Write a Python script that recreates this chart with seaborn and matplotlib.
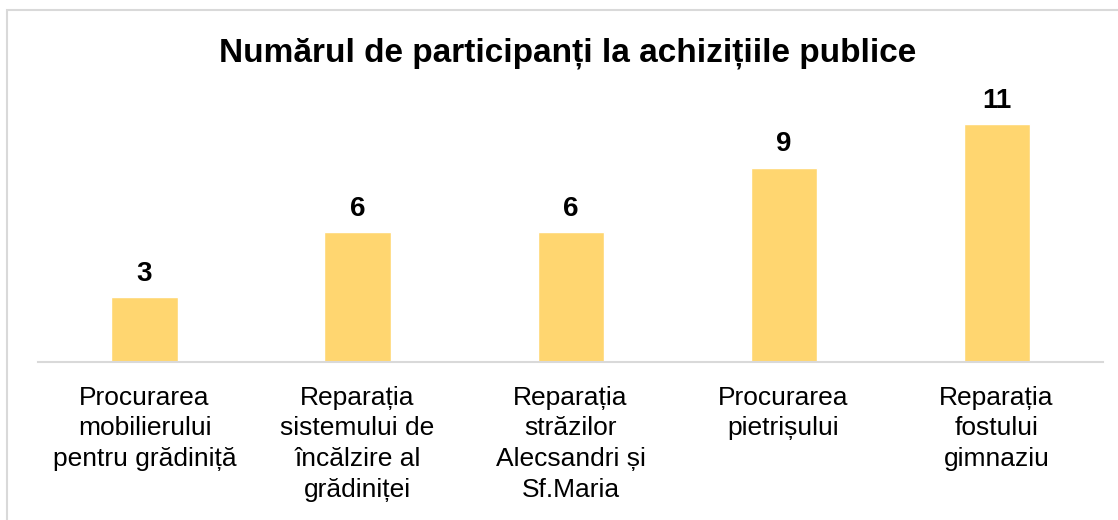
import pandas as pd
import seaborn as sns
import matplotlib.pyplot as plt
import matplotlib.patches as patches

# data
categories = [
    "Procurarea\nmobilierului\npentru grădiniță",
    "Reparația\nsistemului de\nîncălzire al\ngrădiniței",
    "Reparația\nstrăzilor\nAlecsandri și\nSf.Maria",
    "Procurarea\npietrișului",
    "Reparația\nfostului\ngimnaziu",
]
participants = [3, 6, 6, 9, 11]

title = "Numărul de participanți la achizițiile publice"

sns.set_theme(style="white")
plt.rcParams['font.family'] = ['Liberation Sans', 'DejaVu Sans']
plt.rcParams['text.color'] = 'black'

df = pd.DataFrame({"cat": categories, "n": participants})

fig = plt.figure(figsize=(11.18, 5.2), dpi=100)
ax = fig.add_axes([0.034, 0.3038, 0.9526, 0.54])

sns.barplot(data=df, x="cat", y="n", color="#FFD670", width=0.31,
            saturation=1, ax=ax)

ax.set_xlim(-0.5, 4.5)
ax.set_ylim(0, 13)
ax.set_xlabel("")
ax.set_ylabel("")
ax.set_yticks([])

for s in ["top", "left", "right"]:
    ax.spines[s].set_visible(False)
ax.spines["bottom"].set_color("#d9d9d9")
ax.spines["bottom"].set_linewidth(1.5)

ax.tick_params(axis="x", length=0, pad=17, labelsize=19, colors="black")
for t in ax.get_xticklabels():
    t.set_linespacing(1.36)
    t.set_ha("center")

ax.bar_label(ax.containers[0], padding=7.5, fontsize=20, fontweight="bold",
             color="black")

fig.text(0.5076, 0.898, title, ha="center", va="center",
         fontsize=24, fontweight="bold", color="black")

# chart border
fig.add_artist(patches.Rectangle((7 / 1118, -0.05), 1.2, 1 - 10 / 520 + 0.05,
                                 transform=fig.transFigure, fill=False,
                                 edgecolor="#d9d9d9", linewidth=1.5))

fig.savefig("out.png", dpi=100)
